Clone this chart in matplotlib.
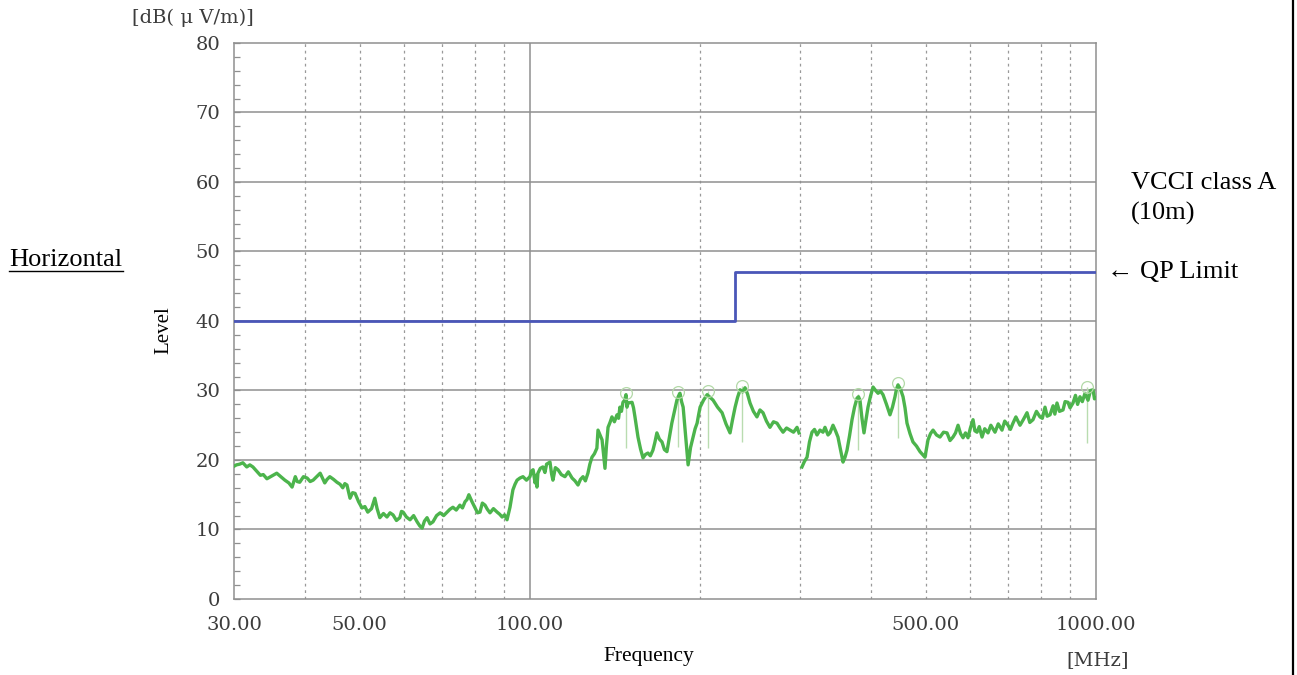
import matplotlib
matplotlib.use("Agg")
import matplotlib.pyplot as plt
import numpy as np
from matplotlib.lines import Line2D
from matplotlib.ticker import FixedLocator, NullFormatter, NullLocator

# ---- measured emission, lower band (30 - 300 MHz) ----
band1_freq = [30.0, 30.3, 30.7, 31.1, 31.6, 32.0, 32.4, 32.9, 33.4, 33.8, 34.3, 35.0,
              35.7, 36.3, 36.9, 37.5, 38.0, 38.5, 38.8, 39.2, 39.8, 40.4, 40.9, 41.4,
              42.0, 42.6, 43.0, 43.4, 43.8, 44.3, 45.0, 45.6, 46.2, 46.7, 47.1, 47.5,
              48.1, 48.6, 49.1, 49.8, 50.5, 51.1, 51.7, 52.5, 53.2, 53.7, 54.3, 55.1,
              55.9, 56.6, 57.3, 58.1, 58.9, 59.3, 59.7, 60.5, 61.4, 62.3, 63.2, 63.9,
              64.5, 65.1, 65.8, 66.6, 67.4, 68.4, 69.4, 70.4, 71.4, 72.2, 73.1, 74.1,
              75.2, 76.0, 76.8, 77.4, 78.0, 79.0, 80.0, 80.8, 81.6, 82.4, 83.3, 84.1,
              85.0, 86.2, 87.5, 88.4, 89.3, 90.2, 91.1, 92.2, 93.3, 94.1, 94.9, 96.0,
              97.2, 98.6, 100.0, 100.6, 101.3, 102.1, 102.5, 102.9, 103.3, 104.3, 105.4,
              106.3, 107.0, 108.5, 109.2, 109.8, 110.9, 112.1, 113.6, 115.3, 116.9,
              118.7, 120.1, 121.6, 122.8, 124.1, 125.3, 126.6, 127.6, 128.7, 130.0,
              131.3, 131.9, 133.0, 134.1, 135.0, 135.7, 136.5, 137.4, 138.5, 139.6,
              141.0, 142.5, 143.4, 144.2, 145.1, 146.0, 147.0, 147.8, 148.4, 149.0,
              151.5, 152.4, 153.3, 154.2, 155.2, 156.8, 158.4, 160.0, 161.6, 163.2,
              164.9, 166.2, 167.6, 169.3, 171.1, 172.8, 174.6, 176.3, 178.1, 180.0,
              181.8, 183.0, 184.1, 185.3, 186.5, 188.4, 190.3, 192.2, 194.2, 195.8,
              197.4, 198.6, 199.8, 202.6, 205.6, 208.1, 210.7, 214.5, 218.5, 222.0,
              225.7, 228.0, 230.4, 232.7, 235.1, 237.5, 239.9, 242.3, 244.8, 248.2,
              251.8, 254.9, 258.1, 261.7, 265.5, 269.3, 273.2, 276.6, 280.0, 284.0,
              288.0, 292.2, 296.4, 298.8]
band1_level = [19.1, 19.3, 19.4, 19.6, 19.0, 19.3, 19.0, 18.4, 17.8, 17.9, 17.3, 17.7,
               18.1, 17.6, 17.1, 16.7, 16.1, 17.6, 16.9, 16.8, 17.6, 17.4, 16.9, 17.1,
               17.6, 18.1, 17.4, 16.7, 17.2, 17.6, 17.2, 16.8, 16.5, 16.0, 16.6, 16.4,
               14.5, 15.3, 15.2, 14.0, 13.1, 13.3, 12.5, 13.0, 14.5, 13.0, 11.7, 12.3,
               11.8, 12.4, 12.1, 11.3, 11.7, 12.6, 12.5, 11.8, 11.4, 12.0, 11.1, 10.5,
               10.2, 11.2, 11.7, 10.8, 11.1, 12.0, 12.4, 12.0, 12.5, 12.9, 13.2, 12.8,
               13.5, 13.1, 14.0, 14.3, 15.0, 14.0, 13.1, 12.4, 12.5, 13.8, 13.5, 12.9,
               12.4, 13.0, 12.5, 12.2, 11.8, 12.1, 11.4, 13.2, 15.7, 16.5, 17.1, 17.4,
               17.6, 17.1, 17.6, 18.4, 18.6, 16.7, 17.8, 16.1, 18.1, 18.8, 19.0,
               18.2, 19.4, 19.7, 18.0, 17.1, 18.9, 18.6, 17.9, 17.6, 18.3,
               17.4, 17.0, 16.4, 17.2, 17.6, 17.0, 18.1, 19.4, 20.4, 20.9,
               21.7, 24.3, 23.6, 22.9, 20.5, 18.8, 22.0, 24.7, 25.4, 26.2,
               25.5, 26.5, 26.0, 27.6, 27.0, 28.3, 28.6, 29.4, 27.6, 28.2,
               28.3, 27.5, 26.2, 24.8, 23.3, 21.6, 20.3, 20.8, 21.0, 20.6,
               21.4, 22.5, 23.9, 23.0, 22.6, 21.5, 21.2, 23.2, 25.3, 27.0,
               28.6, 29.2, 29.6, 28.4, 27.6, 23.5, 19.3, 21.8, 23.3, 24.5,
               25.3, 26.5, 27.6, 28.6, 29.4, 29.0, 28.6, 27.6, 26.8, 25.2,
               23.9, 25.8, 27.6, 29.0, 30.1, 29.8, 30.4, 29.5, 28.2, 27.0,
               26.2, 27.2, 26.8, 25.6, 24.7, 25.5, 25.3, 24.6, 24.0, 24.6,
               24.3, 24.0, 24.7, 23.9]

# ---- measured emission, upper band (300 - 1000 MHz) ----
band2_freq = [302.4, 305.5, 308.7, 311.8, 315.0, 318.2, 321.5, 325.4, 329.4, 332.1,
              336.2, 338.9, 343.1, 346.6, 350.1, 353.7, 357.4, 360.3, 363.2, 367.0,
              370.7, 374.5, 378.3, 380.6, 382.9, 386.0, 389.2, 392.4, 395.6, 399.7,
              403.8, 408.0, 412.1, 416.3, 420.5, 426.5, 432.6, 437.0, 441.5, 444.2,
              446.9, 451.5, 456.2, 459.9, 463.6, 469.3, 475.0, 481.9, 488.8, 493.8,
              498.8, 505.0, 510.2, 515.4, 522.8, 530.2, 537.9, 545.6, 552.3, 559.0,
              564.8, 570.6, 576.4, 582.3, 588.2, 594.2, 600.0, 606.5, 611.0, 616.4,
              622.0, 629.1, 636.0, 644.6, 652.0, 663.2, 672.0, 682.3, 690.0, 699.2,
              706.0, 713.5, 722.0, 734.2, 744.0, 755.4, 764.0, 774.0, 785.0, 796.4,
              804.0, 812.8, 820.0, 829.5, 840.0, 846.0, 853.4, 862.0, 874.5, 882.0,
              892.5, 900.0, 910.8, 920.0, 928.0, 937.1, 946.0, 956.4, 968.2, 978.0,
              988.1, 994.0, 1000.0]
band2_level = [19.0, 19.8, 20.4, 22.6, 24.0, 24.4, 23.6, 24.3, 24.0, 24.7,
               23.6, 23.9, 25.0, 24.2, 23.3, 21.5, 19.7, 20.4, 21.4, 23.5,
               25.8, 27.6, 28.9, 29.1, 28.6, 26.0, 23.9, 25.8, 27.6, 29.2,
               30.5, 30.0, 29.6, 29.9, 29.4, 28.0, 26.5, 27.6, 29.1, 30.2,
               30.8, 30.2, 29.1, 27.5, 25.3, 23.8, 22.6, 22.0, 21.2, 20.8,
               20.4, 22.9, 23.8, 24.3, 23.6, 23.3, 24.0, 23.9, 22.8, 23.3,
               23.9, 25.0, 23.8, 23.2, 23.9, 23.2, 24.6, 25.8, 24.2, 24.0,
               24.8, 23.3, 24.5, 23.9, 25.0, 24.0, 25.2, 24.3, 25.6, 25.0,
               24.4, 25.3, 26.2, 25.0, 25.8, 26.8, 25.4, 25.8, 27.0, 26.2,
               26.0, 27.6, 26.3, 26.5, 27.8, 26.6, 28.2, 27.0, 27.2, 28.4,
               28.3, 27.5, 28.2, 29.3, 28.0, 29.1, 28.4, 29.6, 28.6, 30.0,
               30.1, 28.8, 28.9]

# ---- quasi-peak readings at the marked frequencies ----
qp_freq = [147.8, 182.6, 206.3, 237.0, 379.8, 447.0, 964.0]
qp_level = [29.6, 29.8, 29.9, 30.6, 29.5, 31.1, 30.5]
qp_floor = [21.7, 21.9, 21.7, 22.6, 21.4, 23.2, 22.4]

# ---- VCCI class A (10 m) quasi-peak limit ----
limit_freq = [30, 230, 1000]
limit_level = [40, 47, 47]

# ---- axis ticks ----
x_label_ticks = [30, 50, 100, 500, 1000]
x_label_text = ["30.00", "50.00", "100.00", "500.00", "1000.00"]
x_grid_dashed = [40, 50, 60, 70, 80, 90, 200, 300, 400, 500, 600, 700, 800, 900]
x_grid_solid = [100]
y_major = [0, 10, 20, 30, 40, 50, 60, 70, 80]

TICK_FONT = "DejaVu Serif"
TEXT_FONT = "Liberation Serif"
GRID_COL = "#8f8f8f"
LABEL_COL = "#3c3c3c"

fig = plt.figure(figsize=(12.97, 6.75), dpi=100)
ax = fig.add_axes([0.1804, 0.1126, 0.6646, 0.8237])
ax.set_xscale("log")
ax.set_xlim(30, 1000)
ax.set_ylim(0, 80)

# grid
for f in x_grid_dashed:
    ax.axvline(f, color="#999999", lw=0.9, linestyle=(0, (2.2, 3.0)), zorder=1)
for f in x_grid_solid:
    ax.axvline(f, color=GRID_COL, lw=1.1, zorder=1)
for v in y_major[1:-1]:
    ax.axhline(v, color=GRID_COL, lw=1.1, zorder=1)

for s in ax.spines.values():
    s.set_color(GRID_COL)
    s.set_linewidth(1.1)

# ticks
ax.xaxis.set_major_locator(FixedLocator(x_label_ticks))
ax.set_xticklabels(x_label_text)
ax.xaxis.set_minor_locator(NullLocator())
ax.xaxis.set_minor_formatter(NullFormatter())
ax.tick_params(axis="x", which="both", length=0, pad=12, labelsize=14,
               labelcolor=LABEL_COL)
ax.set_yticks(y_major)
ax.yaxis.set_minor_locator(FixedLocator(np.arange(0, 81, 2)))
ax.tick_params(axis="y", which="both", direction="in", length=4.5, width=0.9,
               color=GRID_COL, pad=10, labelsize=14, labelcolor=LABEL_COL)
for lab in ax.get_xticklabels() + ax.get_yticklabels():
    lab.set_fontfamily(TICK_FONT)

# limit line
ax.step(limit_freq, limit_level, where="post", color="#4a56b8", lw=2.0, zorder=3)

# measured traces
green = "#4cb44c"
ax.plot(band1_freq, band1_level, color=green, lw=2.4, zorder=4, solid_joinstyle="round")
ax.plot(band2_freq, band2_level, color=green, lw=2.4, zorder=4, solid_joinstyle="round")

# quasi-peak markers
ax.vlines(qp_freq, qp_floor, qp_level, color="#b9dcb0", lw=1.0, zorder=3)
ax.plot(qp_freq, qp_level, linestyle="none", marker="o", markersize=8.5,
        markerfacecolor="none", markeredgecolor="#b3d9a8", markeredgewidth=0.9, zorder=5)

# annotations
fig.text(132 / 1297, 1 - 18 / 675, "[dB( μ V/m)]", fontfamily=TICK_FONT, fontsize=14,
         color=LABEL_COL, ha="left", va="center")
fig.text(1098 / 1297, 1 - 660 / 675, "[MHz]", fontfamily=TICK_FONT, fontsize=14,
         color=LABEL_COL, ha="center", va="center")
fig.text(649 / 1297, 1 - 656 / 675, "Frequency", fontfamily=TEXT_FONT, fontsize=15.5,
         color="black", ha="center", va="center")
fig.text(164 / 1297, 1 - 330 / 675, "Level", fontfamily=TEXT_FONT, fontsize=15,
         color="black", ha="center", va="center", rotation=90)
fig.text(9 / 1297, 1 - 260 / 675, "Horizontal", fontfamily=TEXT_FONT, fontsize=19,
         color="black", ha="left", va="center")
fig.add_artist(Line2D([9 / 1297, 123 / 1297], [1 - 271 / 675, 1 - 271 / 675],
                      color="black", lw=1.0, transform=fig.transFigure))
fig.text(1131 / 1297, 1 - 183 / 675, "VCCI class A", fontfamily=TEXT_FONT, fontsize=19,
         color="black", ha="left", va="center")
fig.text(1131 / 1297, 1 - 213 / 675, "(10m)", fontfamily=TEXT_FONT, fontsize=19,
         color="black", ha="left", va="center")
fig.text(1107 / 1297, 1 - 272 / 675, "← QP Limit", fontfamily=TEXT_FONT, fontsize=19,
         color="black", ha="left", va="center")

# frame rule on the right edge
fig.add_artist(Line2D([1293 / 1297, 1293 / 1297], [0, 1], color="black", lw=1.6,
                      transform=fig.transFigure))

fig.savefig("out.png", dpi=100)
